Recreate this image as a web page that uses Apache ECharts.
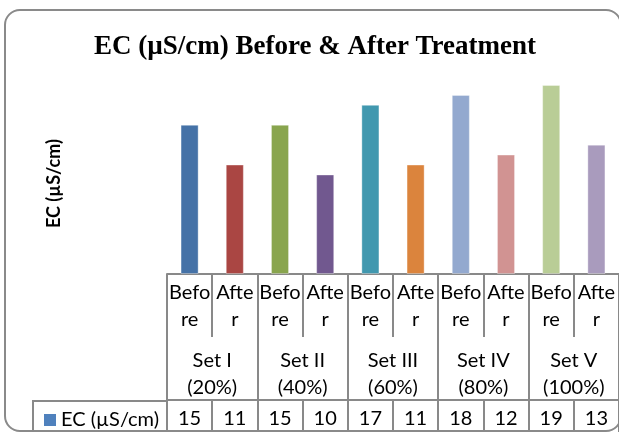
<!DOCTYPE html>
<html>
<head>
<meta charset="utf-8">
<script src="https://cdn.jsdelivr.net/npm/echarts@6/dist/echarts.min.js"></script>
<style>
  html, body { margin: 0; padding: 0; background: #fff; }
  #chart { width: 619px; height: 432px; }
</style>
</head>
<body>
<div id="chart"></div>
<script>
// EC readings for each treatment set, before and after
const phases = ['Before', 'After', 'Before', 'After', 'Before', 'After', 'Before', 'After', 'Before', 'After'];
const sets = ['Set I', 'Set II', 'Set III', 'Set IV', 'Set V'];
const setShares = ['20%', '40%', '60%', '80%', '100%'];
const ecValues = [15, 11, 15, 10, 17, 11, 18, 12, 19, 13];
const barColors = ['#4572A7', '#AA4643', '#89A54E', '#71588F', '#4198AF',
                   '#DB843D', '#93A9CF', '#D19392', '#B9CD96', '#A99BBD'];
const seriesName = 'EC (\u00B5S/cm)';
const chartTitle = 'EC (\u00B5S/cm) Before & After Treatment';

const gridLine = '#898989';
const tableFont = 'Lato';

const chart = echarts.init(document.getElementById('chart'), null, { renderer: 'canvas' });

const tableAxisBase = {
  type: 'category',
  position: 'bottom',
  boundaryGap: true,
  axisLine: { show: false, onZero: false },
  axisTick: { show: true, interval: 0, lineStyle: { color: gridLine, width: 2 } },
  axisLabel: { interval: 0, color: '#000', fontFamily: tableFont, fontSize: 20, lineHeight: 27 },
  splitLine: { show: false }
};

chart.setOption({
  animation: false,
  backgroundColor: '#fff',
  title: {
    text: chartTitle,
    left: 310,
    top: 29,
    textAlign: 'center',
    textStyle: { fontFamily: 'Liberation Serif', fontWeight: 'bold', fontSize: 27, color: '#000' }
  },
  legend: {
    data: [seriesName],
    left: 39,
    top: 405,
    icon: 'rect',
    itemWidth: 12,
    itemHeight: 12,
    itemGap: 4,
    selectedMode: false,
    textStyle: { fontFamily: tableFont, fontSize: 20, color: '#000' }
  },
  grid: { left: 167, top: 75, width: 454, height: 200 },
  xAxis: [
    Object.assign({}, tableAxisBase, {
      data: phases,
      axisLine: { show: true, onZero: false, lineStyle: { color: gridLine, width: 2 } },
      axisTick: { show: true, interval: 0, length: 63, lineStyle: { color: gridLine, width: 2 } },
      axisLabel: Object.assign({}, tableAxisBase.axisLabel, {
        margin: 5,
        formatter: (v) => v.slice(0, 4) + '\n' + v.slice(4)
      })
    }),
    Object.assign({}, tableAxisBase, {
      data: sets.map((s, i) => s + '\n(' + setShares[i] + ')'),
      axisTick: { show: true, interval: 0, length: 126, lineStyle: { color: gridLine, width: 2 } },
      axisLabel: Object.assign({}, tableAxisBase.axisLabel, { margin: 73 })
    }),
    Object.assign({}, tableAxisBase, {
      data: ecValues.map(String),
      offset: 126,
      axisLine: { show: true, onZero: false, lineStyle: { color: gridLine, width: 2 } },
      axisTick: { show: true, interval: 0, length: 40, lineStyle: { color: gridLine, width: 2 } },
      axisLabel: Object.assign({}, tableAxisBase.axisLabel, { margin: 5 })
    })
  ],
  yAxis: {
    type: 'value',
    min: 0,
    max: 20,
    axisLine: { show: false },
    axisTick: { show: false },
    axisLabel: { show: false },
    splitLine: { show: false },
    name: seriesName,
    nameLocation: 'middle',
    nameRotate: 90,
    nameGap: 104,
    nameTextStyle: { fontFamily: tableFont, fontWeight: 'bold', fontSize: 18, color: '#000', padding: [0, 18, 0, 0] }
  },
  series: [{
    name: seriesName,
    type: 'bar',
    xAxisIndex: 0,
    barWidth: '40%',
    itemStyle: { color: '#4F81BD' },
    data: ecValues.map((v, i) => ({
      value: v,
      itemStyle: { color: barColors[i], borderColor: 'rgba(255,255,255,0.35)', borderWidth: 1 }
    }))
  }],
  graphic: [
    {
      type: 'rect',
      shape: { x: 5, y: 10, width: 616, height: 421, r: 15 },
      style: { fill: null, stroke: '#8a8a8a', lineWidth: 2 },
      z: 10
    },
    {
      type: 'polyline',
      shape: { points: [[33, 440], [33, 401], [167, 401]] },
      style: { fill: null, stroke: gridLine, lineWidth: 2 },
      z: 10
    }
  ]
});
</script>
</body>
</html>
